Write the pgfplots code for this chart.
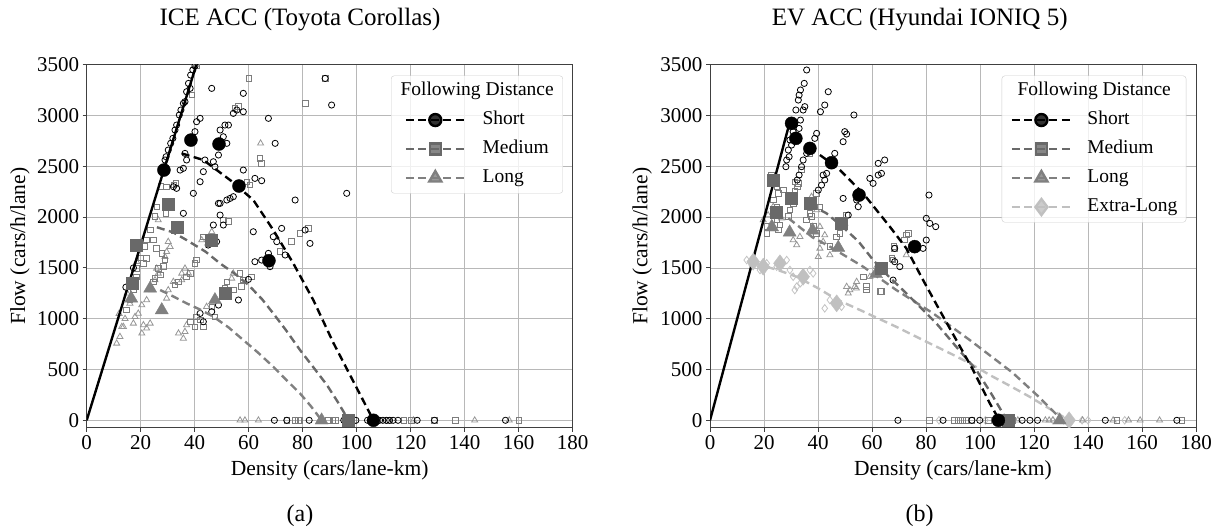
\documentclass[border=0pt]{standalone}
\usepackage{fontspec}
\setmainfont{Liberation Serif}
\usepackage{pgfplots}
\pgfplotsset{compat=1.18}
\definecolor{medc}{RGB}{105,105,105}
\definecolor{longc}{RGB}{128,128,128}
\definecolor{xlc}{RGB}{192,192,192}
\definecolor{rawm}{RGB}{125,125,125}
\definecolor{rawl}{RGB}{150,150,150}
\definecolor{rawx}{RGB}{195,195,195}
\pgfplotsset{
 fdaxis/.style={
  scale only axis, width=486pt, height=363pt,
  xmin=0, xmax=180, ymin=-73, ymax=3500,
  xtick={0,20,...,180}, ytick={0,500,...,3500},
  grid=major, major grid style={line width=0.7pt, color=black!28},
  axis line style={line width=0.9pt, color=black!75},
  tick align=outside, major tick length=4pt, tick style={line width=0.8pt, color=black!75},
  xtick pos=left, ytick pos=left,
  tick label style={font=\fontsize{21}{24}\selectfont},
  /pgf/number format/assume math mode=true,
  /pgf/number format/1000 sep={},
  label style={font=\fontsize{21.5}{25}\selectfont},
  every axis title shift=0pt,
  title style={font=\fontsize{25}{29}\selectfont, anchor=center},
  xlabel={Density (cars/lane-km)}, ylabel={Flow (cars/h/lane)},
  xlabel style={at={(axis description cs:0.5,-0.1165)}, anchor=center},
  clip marker paths=true,
  legend cell align=left,
 },
 rawS/.style={only marks, mark=o, black, mark size=3.1pt, line width=0.8pt, forget plot},
 rawM/.style={only marks, mark=square, rawm, mark size=2.8pt, line width=0.8pt, forget plot},
 rawL/.style={only marks, mark=triangle, rawl, mark size=3.5pt, line width=0.8pt, forget plot},
 rawX/.style={only marks, mark=diamond, rawx, mark size=3.8pt, line width=0.8pt, forget plot},
 bigS/.style={only marks, mark=*, black, mark size=6.5pt, forget plot},
 bigM/.style={only marks, mark=square*, medc, mark size=6pt, forget plot},
 bigL/.style={only marks, mark=triangle*, longc, mark size=7.5pt, forget plot},
 bigX/.style={only marks, mark=diamond*, xlc, mark size=8.5pt, forget plot},
 fit/.style={line width=2.4pt, dash pattern=on 8pt off 4.5pt, no markers, forget plot},
 legS/.style={black, line width=2.4pt, dash pattern=on 8pt off 4.5pt, mark=*, mark size=6pt, mark options={solid}},
 legM/.style={medc, line width=2.4pt, dash pattern=on 8pt off 4.5pt, mark=square*, mark size=5.5pt, mark options={solid}},
 legL/.style={longc, line width=2.4pt, dash pattern=on 8pt off 4.5pt, mark=triangle*, mark size=7pt, mark options={solid}},
 legX/.style={xlc, line width=2.4pt, dash pattern=on 8pt off 4.5pt, mark=diamond*, mark size=8pt, mark options={solid}},
}
\begin{document}
\begin{tikzpicture}
\path[use as bounding box] (0,0) rectangle (1217pt,531pt);
% ---------------- (a) ICE ----------------
\begin{axis}[fdaxis, at={(86.7pt,103.3pt)}, anchor=south west,
  title={ICE ACC (Toyota Corollas)},
  title style={at={(axis description cs:0.439,1.124)}},
  ylabel style={at={(axis description cs:-0.1372,0.5)}, anchor=center},
  legend image code/.code={\path (-4.4pt,0pt); \draw[mark repeat=2,mark phase=2,#1] plot coordinates {(0pt,0pt) (29.5pt,0pt) (59pt,0pt)};},
  legend style={at={(0.980,0.970)}, anchor=north east, draw=black!20, rounded corners=3pt,
    fill=white, fill opacity=0.8, text opacity=1, font=\fontsize{19.5}{23}\selectfont,
    inner xsep=9pt, inner ysep=6pt, row sep=10.5pt, column sep=16.6pt,
    nodes={inner sep=0pt, text height=14pt, text depth=4.5pt}},
  after end axis/.code={\node[font=\fontsize{24}{28}\selectfont] at (axis description cs:0.439,-0.2433) {(a)};}]
\addlegendimage{empty legend}\addlegendentry{\hspace*{-82.1pt}Following Distance}
\addlegendimage{legS}\addlegendentry{Short}
\addlegendimage{legM}\addlegendentry{Medium}
\addlegendimage{legL}\addlegendentry{Long}
% raw Long
\addplot[rawL] coordinates {
(64.4,2726)(26.5,1971)(30.2,1758)(30.9,1709)(29.6,1659)(29.0,1610)(25.9,1495)(26.5,1446)
(25.3,1380)(24.1,1282)(22.2,1184)(20.4,1134)(19.1,1052)(17.9,1019)(17.3,954)(13.6,921)
(12.3,823)(11.1,757)(13.0,921)(21.0,938)(22.2,905)(23.5,954)(20.4,856)(30.2,1282)
(29.6,1200)(32.1,1364)(35.2,1446)(36.4,1495)(37.7,1446)(35.2,1380)(34.0,856)(35.8,806)
(36.4,872)(37.0,938)(42.6,1774)(46.3,1856)(53.7,1397)(54.3,1446)(44.4,1118)
(15.0,1250)(16.0,1150)(12.0,1050)(14.2,1000)(18.5,1560)
(56.8,0)(58.6,0)(63.6,0)(121.0,0)(143.7,0)(156.5,0)};
% raw Medium
\addplot[rawM] coordinates {
(40.7,3487)(38.9,3201)(32.3,2316)(33.1,2332)(29.6,2299)(29.4,2135)(29.4,2037)(25.3,2004)
(23.5,1873)(22.2,1774)(21.6,1709)(22.2,1594)(21.0,1545)(18.3,1495)(18.5,1413)(17.3,1282)
(16.0,1184)(14.8,1085)(24.7,1774)(25.9,1692)(27.8,1643)(29.0,1577)(28.4,1512)(26.5,1495)
(27.2,1430)(25.3,1397)(24.7,1364)(32.7,1331)(34.0,1364)(37.0,1413)(38.3,1446)(40.1,1544)
(40.7,1577)(38.5,970)(40.1,921)(43.2,921)(42.0,987)(40.7,1019)(47.5,1019)(46.3,1118)
(51.9,1364)(54.3,1282)(57.4,1315)(58.0,1380)(56.8,1446)(61.1,1413)(51.2,1299)(43.2,1807)
(50.6,1971)(52.5,1955)(59.3,2348)(60.5,2316)(54.9,3070)(56.2,3087)(60.1,3365)(64.2,2578)
(64.8,2529)(71.6,1660)(75.9,1758)(79.0,1840)(80.9,3119)(88.3,3365)(82.1,1889)
(27.5,2300)(26.0,2100)(20.0,1600)(19.0,1550)
(74.1,0)(77.2,0)(78.4,0)(79.0,0)(89.5,0)(91.2,0)(92.0,0)(99.0,0)(111.8,0)(117.5,0)
(120.3,0)(128.8,0)(136.6,0)(160.1,0)};
% raw Short
\addplot[rawS] coordinates {
(40.1,3487)(39.3,3448)(38.5,3398)(37.7,3316)(38.3,3267)(37.0,3234)(36.4,3136)(35.8,3119)
(34.9,3054)(34.3,3005)(33.3,2906)(32.7,2857)(31.9,2775)(31.1,2726)(30.2,2660)(29.4,2594)
(29.0,2562)(14.5,1310)(17.3,1500)
(42.0,2972)(40.7,2939)(40.1,2841)(36.4,2627)(37.0,2562)(34.6,2463)(35.8,2480)(32.1,2299)
(33.3,2283)(42.0,2348)(43.8,2562)(43.2,2447)(39.5,2234)(46.3,3267)(58.0,3218)(54.3,3021)
(55.6,3054)(58.0,3037)(67.3,2972)(69.8,2726)(51.2,2906)(52.5,2906)(49.4,2857)(50.6,2791)
(51.9,2726)(48.8,2611)(46.9,2545)(47.5,2496)(58.0,2463)(62.3,2381)(64.8,2358)(48.8,2135)
(49.4,2135)(51.9,2168)(53.1,2184)(54.3,2201)(77.2,2168)(96.3,2234)(88.3,3365)(90.7,3103)
(49.4,2020)(46.9,1922)(50.6,1922)(45.0,1725)(48.1,1758)(61.7,1856)(69.1,1807)(72.2,1889)
(70.4,1758)(80.9,1873)(82.7,1741)(62.3,1561)(64.8,1577)(67.3,1643)(67.9,1512)(73.5,1627)
(59.9,1387)(56.2,1184)(42.0,1052)(43.2,970)(46.3,1069)(48.8,1134)(35.8,2037)
(69.5,0)(74.1,0)(82.4,0)(87.0,0)(95.2,0)(99.7,0)(104.0,0)(108.5,0)(109.7,0)(111.0,0)
(112.2,0)(113.5,0)(115.3,0)(122.4,0)(128.8,0)(155.1,0)};
% free-flow line
\addplot[black, line width=2.4pt, forget plot] coordinates {(0,0)(40.6,3500)};
% fits
\addplot[fit, longc] coordinates {(27.2,1282)(32,1220)(37,1151)(42,1090)(46.9,1020)(52.5,915)(58,790)(63.5,665)(69.1,527)(74,395)(79,265)(83,140)(87,0)};
\addplot[fit, medc] coordinates {(26,1900)(32,1850)(37,1774)(44,1660)(49.4,1544)(55,1440)(60,1330)(65,1190)(69.1,1052)(74,880)(79,692)(84,520)(88.9,350)(93,180)(97,0)};
\addplot[fit, black] coordinates {(35.2,2627)(43.2,2562)(53.1,2365)(61.7,2168)(69.1,1873)(76.5,1545)(84,1180)(91.4,760)(98.8,380)(106.2,0)};
% means
\addplot[bigL] coordinates {(16.5,1200)(23.5,1298)(27.8,1085)(47.5,1184)(87.0,0)};
\addplot[bigM] coordinates {(18.5,1720)(16.8,1350)(30.0,2129)(33.6,1899)(46.0,1774)(51.2,1249)(97.0,0)};
\addplot[bigS] coordinates {(28.6,2463)(38.6,2758)(49.0,2719)(56.4,2306)(67.5,1571)(106.2,0)};
\end{axis}
% ---------------- (b) EV ----------------
\begin{axis}[fdaxis, at={(710pt,103.3pt)}, anchor=south west,
  title={EV ACC (Hyundai IONIQ 5)},
  title style={at={(axis description cs:0.4315,1.124)}},
  ylabel style={at={(axis description cs:-0.1397,0.5)}, anchor=center},
  legend image code/.code={\draw[mark repeat=2,mark phase=2,#1] plot coordinates {(0pt,0pt) (29.5pt,0pt) (59pt,0pt)};},
  legend style={at={(0.980,0.970)}, anchor=north east, draw=black!20, rounded corners=3pt,
    fill=white, fill opacity=0.8, text opacity=1, font=\fontsize{19.5}{23}\selectfont,
    inner xsep=8.8pt, inner ysep=6pt, row sep=10.5pt, column sep=15.3pt,
    nodes={inner sep=0pt, text height=14pt, text depth=4.5pt}},
  after end axis/.code={\node[font=\fontsize{24}{28}\selectfont] at (axis description cs:0.4315,-0.2433) {(b)};}]
\addlegendimage{empty legend}\addlegendentry{\hspace*{-69.8pt}Following Distance}
\addlegendimage{legS}\addlegendentry{Short}
\addlegendimage{legM}\addlegendentry{Medium}
\addlegendimage{legL}\addlegendentry{Long}
\addlegendimage{legX}\addlegendentry{Extra-Long}
% raw Extra-Long
\addplot[rawX] coordinates {
(13.6,1577)(15.4,1530)(18.5,1479)(21.0,1545)(24.7,1512)(28.4,1577)(29.6,1479)(30.8,1413)
(31.4,1282)(32.1,1315)(37.0,1479)(38.2,1446)(42.5,1102)(44.4,1184)(48.7,1118)(33.5,1350)
(84.8,0)(102.0,0)(127.0,0)(131.0,0)(137.8,0)(140.0,0)(153.6,0)};
% raw Long
\addplot[rawL] coordinates {
(19.7,1971)(21.5,2020)(23.4,2102)(22.8,1940)(26.5,1990)(29.6,1840)(30.8,1774)(32.1,1725)
(33.3,1807)(37.6,2201)(38.3,2150)(39.5,2070)(40.7,1906)(42.5,1823)(41.9,1758)(40.7,1692)
(40.1,1610)(44.4,1627)(49.9,1938)(50.6,1315)(51.8,1282)(53.6,1315)(54.3,1364)(51.2,1250)
(72.7,1627)(61.7,1512)(59.2,1413)(54.2,1299)
(112.0,0)(114.0,0)(124.2,0)(125.6,0)(127.0,0)(138.0,0)(149.3,0)(155.0,0)(159.3,0)(166.5,0)};
% raw Medium
\addplot[rawM] coordinates {
(22.8,2414)(24.7,2299)(25.3,2234)(23.4,2168)(24.7,2102)(25.3,2037)(24.7,1971)(25.9,1922)
(25.3,1873)(21.0,1906)(21.0,1840)(27.1,2266)(31.4,2348)(32.3,2299)(37.0,2627)(39.5,2234)
(40.7,2102)(37.0,2037)(35.8,1971)(50.6,2020)(48.1,1840)(46.9,1807)(44.4,1709)(68.4,1692)
(73.4,1840)(72.1,1774)(67.8,1577)(58.0,1315)(63.5,1266)(56.7,1413)(72.7,1824)(68.1,1709)
(67.4,1594)(58.0,1282)(63.1,1268)(32.7,2332)(33.9,2463)(31.4,2250)(30.8,2135)(29.6,2070)
(29.0,2004)(37.6,2004)(38.2,1906)(39.5,1840)
(81.2,0)(90.5,0)(92.0,0)(93.4,0)(94.8,0)(97.0,0)(103.0,0)(112.0,0)(150.7,0)(174.8,0)};
% raw Short
\addplot[rawS] coordinates {
(35.8,3448)(34.9,3316)(33.5,3251)(33.0,3201)(32.7,3152)(35.1,3087)(34.5,3054)(31.8,3054)
(33.5,2955)(33.0,2873)(30.8,2840)(29.6,2759)(30.2,2709)(29.0,2660)(29.3,2594)(28.4,2562)
(28.1,2496)(43.8,3234)(42.5,3103)(40.9,3037)(53.3,3005)(39.5,2824)(38.8,2775)(37.6,2693)
(35.8,2627)(34.5,2562)(33.9,2496)(33.0,2414)(32.3,2365)(49.9,2841)(50.6,2817)(49.3,2742)
(46.2,2627)(41.9,2414)(43.2,2430)(42.5,2365)(41.3,2315)(40.1,2266)(49.3,2184)(54.3,2168)
(54.9,2102)(64.7,2562)(62.3,2529)(63.5,2430)(62.3,2414)(59.2,2381)(60.4,2332)(81.1,2217)
(80.1,1988)(81.4,1938)(83.6,1906)(80.1,1774)(68.4,1692)(78.9,1692)(68.4,1561)(70.3,1512)
(67.8,1380)(51.2,2020)
(69.6,0)(86.3,0)(97.0,0)(99.9,0)(106.7,0)(115.6,0)(118.5,0)(121.3,0)(146.4,0)(172.9,0)};
% free-flow line
\addplot[black, line width=2.4pt, forget plot] coordinates {(0,0)(29.8,2960)};
% fits
\addplot[fit, xlc] coordinates {(16.6,1544)(25,1480)(32.1,1413)(40,1300)(46.9,1190)(56,1080)(69,920)(80,775)(90,645)(96.2,561)(104,440)(111,340)(118.3,233)(126,110)(133,0)};
\addplot[fit, longc] coordinates {(29,1990)(38,1800)(44.4,1709)(56.7,1512)(69,1282)(82.6,1053)(96.2,790)(112,470)(121,250)(130.5,0)};
\addplot[fit, medc] coordinates {(37,2120)(43,2040)(49.3,1900)(55,1760)(60.4,1578)(66,1420)(72.7,1250)(78,1110)(83.8,955)(91,730)(98.6,496)(104,270)(110,0)};
\addplot[fit, black] coordinates {(40.7,2611)(45,2529)(48.1,2463)(56.7,2234)(66.6,1906)(72.7,1693)(78.9,1381)(85,1086)(91.2,791)(97.4,496)(103.6,168)(107.2,0)};
% means
\addplot[bigX] coordinates {(16.0,1561)(19.7,1512)(25.9,1545)(34.5,1413)(46.9,1151)(133.0,0)};
\addplot[bigL] coordinates {(23.0,1900)(29.5,1850)(38.0,1870)(47.5,1700)(61.5,1440)(129.5,0)};
\addplot[bigM] coordinates {(23.4,2365)(24.5,2050)(30.2,2184)(37.0,2135)(48.7,1938)(63.5,1495)(110.6,0)};
\addplot[bigS] coordinates {(30.2,2923)(31.8,2775)(37.0,2676)(45.0,2535)(55.2,2217)(75.8,1709)(106.8,0)};
\end{axis}
\end{tikzpicture}
\end{document}
